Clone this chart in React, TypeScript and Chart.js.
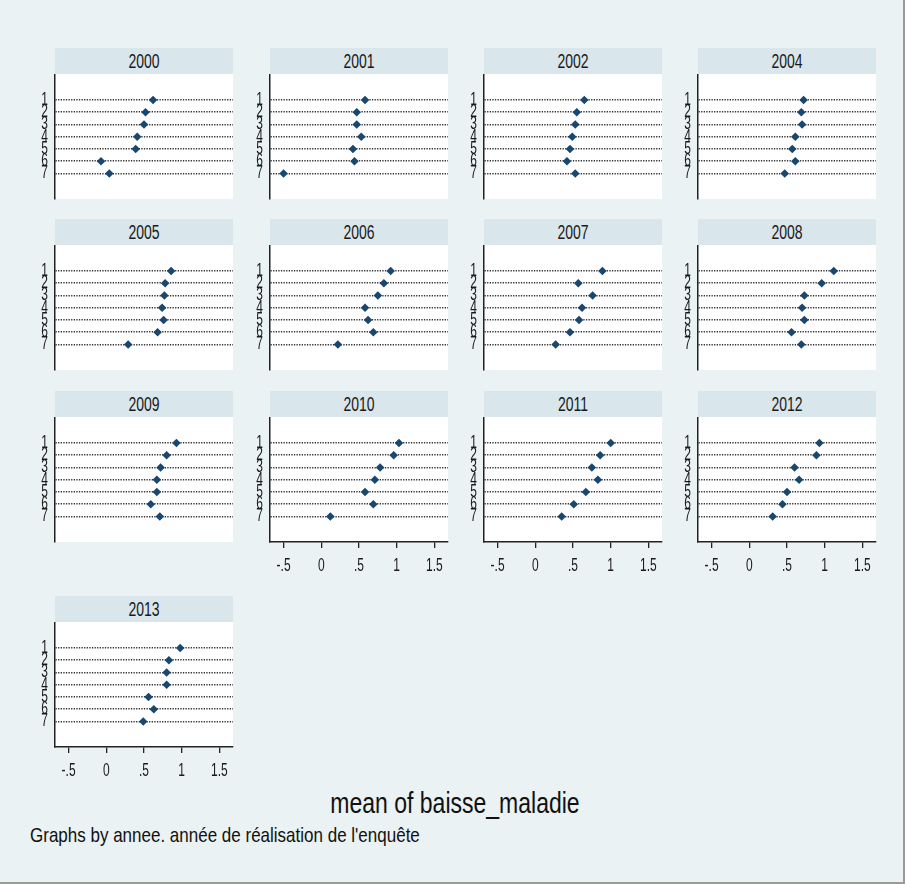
import React, { useEffect, useRef } from 'react';
import { Chart, registerables } from 'chart.js';

Chart.register(...registerables);

// ---------- data ----------
const years = ['2000', '2001', '2002', '2004', '2005', '2006', '2007', '2008', '2009', '2010', '2011', '2012', '2013'];
const categories = ['1', '2', '3', '4', '5', '6', '7'];
const xTickValues = [-0.5, 0, 0.5, 1, 1.5];
const xTickLabels = ['-.5', '0', '.5', '1', '1.5'];
const panelsWithXAxis = ['2010', '2011', '2012', '2013'];

const mean2000 = [0.62, 0.52, 0.5, 0.41, 0.39, -0.07, 0.04];
const mean2001 = [0.58, 0.47, 0.47, 0.53, 0.42, 0.44, -0.5];
const mean2002 = [0.65, 0.55, 0.53, 0.49, 0.46, 0.42, 0.53];
const mean2004 = [0.72, 0.69, 0.7, 0.61, 0.57, 0.61, 0.47];
const mean2005 = [0.86, 0.78, 0.77, 0.74, 0.76, 0.68, 0.29];
const mean2006 = [0.92, 0.83, 0.75, 0.58, 0.62, 0.69, 0.22];
const mean2007 = [0.89, 0.57, 0.76, 0.62, 0.58, 0.46, 0.27];
const mean2008 = [1.12, 0.96, 0.73, 0.7, 0.73, 0.56, 0.69];
const mean2009 = [0.93, 0.8, 0.72, 0.67, 0.67, 0.59, 0.71];
const mean2010 = [1.03, 0.96, 0.78, 0.71, 0.58, 0.69, 0.12];
const mean2011 = [1.0, 0.86, 0.75, 0.83, 0.67, 0.51, 0.35];
const mean2012 = [0.93, 0.89, 0.6, 0.66, 0.5, 0.44, 0.31];
const mean2013 = [0.98, 0.83, 0.8, 0.8, 0.56, 0.63, 0.49];

const seriesByYear = [
  mean2000, mean2001, mean2002, mean2004, mean2005, mean2006, mean2007,
  mean2008, mean2009, mean2010, mean2011, mean2012, mean2013,
];

const xTitle = 'mean of baisse_maladie';
const note = "Graphs by annee. année de réalisation de l'enquête";

// ---------- layout / style ----------
const COL_LEFT = [55, 270, 484, 698];
const ROW_TOP = [48, 219, 391, 596];
const PLOT_W = 178;
const PLOT_H = 125;
const HEADER_H = 26;
const LABEL_SPACE = 28;
const RIGHT_PAD = 4;
const AXIS_SPACE = 36;
const BG = '#EAF2F3';
const HEADER_BG = '#D9E6EB';
const MARKER = '#1A476F';
const FONT = '"Liberation Sans", Arial, sans-serif';

function Panel({ index }: { index: number }) {
  const ref = useRef<HTMLCanvasElement>(null);
  const year = years[index];
  const values = seriesByYear[index];
  const showX = panelsWithXAxis.includes(year);
  const row = Math.floor(index / 4);
  const col = index % 4;
  const left = COL_LEFT[col];
  const top = ROW_TOP[row];
  const canvasW = LABEL_SPACE + PLOT_W + RIGHT_PAD;
  const canvasH = PLOT_H + (showX ? AXIS_SPACE : 2);

  useEffect(() => {
    const plugin = {
      id: 'stataDecor',
      beforeDraw(chart: any) {
        const { ctx, chartArea } = chart;
        ctx.save();
        ctx.fillStyle = '#ffffff';
        ctx.fillRect(chartArea.left, chartArea.top, chartArea.right - chartArea.left, chartArea.bottom - chartArea.top);
        ctx.restore();
      },
      afterDraw(chart: any) {
        const { ctx, chartArea } = chart;
        const ys = chart.scales.y;
        const xs = chart.scales.x;
        ctx.save();
        ctx.fillStyle = '#1a1a1a';
        ctx.font = `12px ${FONT}`;
        ctx.textAlign = 'right';
        ctx.textBaseline = 'middle';
        categories.forEach((c, i) => {
          const py = ys.getPixelForValue(i + 1);
          ctx.save();
          ctx.translate(chartArea.left - 7, py);
          ctx.scale(1, 1.5);
          ctx.fillText(c, 0, 0);
          ctx.restore();
        });
        if (showX) {
          ctx.textAlign = 'center';
          xTickValues.forEach((v, i) => {
            const px = xs.getPixelForValue(v);
            ctx.save();
            ctx.translate(px, chartArea.bottom + 24);
            ctx.scale(1, 1.5);
            ctx.fillText(xTickLabels[i], 0, 0);
            ctx.restore();
          });
        }
        ctx.restore();
      },
    };

    const chart = new Chart(ref.current as HTMLCanvasElement, {
      type: 'scatter',
      data: {
        datasets: [
          {
            data: values.map((v, i) => ({ x: v, y: i + 1 })),
            pointStyle: 'rectRot',
            pointRadius: 4.3,
            pointBorderWidth: 0,
            backgroundColor: MARKER,
            borderColor: MARKER,
          },
        ],
      },
      options: {
        responsive: false,
        maintainAspectRatio: false,
        animation: false,
        events: [],
        layout: {
          autoPadding: false,
          padding: { left: LABEL_SPACE, right: RIGHT_PAD, top: 0, bottom: showX ? AXIS_SPACE - 6 : 2 },
        },
        plugins: { legend: { display: false }, tooltip: { enabled: false }, title: { display: false } },
        scales: {
          x: {
            type: 'linear',
            min: -0.68,
            max: 1.68,
            display: showX,
            afterBuildTicks: (scale: any) => {
              scale.ticks = xTickValues.map((value) => ({ value }));
            },
            grid: {
              display: true,
              drawOnChartArea: false,
              drawTicks: true,
              tickLength: 6,
              color: '#222',
              lineWidth: 1.3,
            },
            border: { display: true, color: '#222', width: 1.5 },
            ticks: { display: false },
          },
          y: {
            type: 'linear',
            reverse: true,
            min: -1.12,
            max: 9.08,
            display: true,
            afterBuildTicks: (scale: any) => {
              scale.ticks = categories.map((_, i) => ({ value: i + 1 }));
            },
            grid: {
              display: true,
              drawTicks: false,
              color: '#333333',
              lineWidth: 1.6,
            },
            border: { display: true, color: '#222', width: 1.5, dash: [1.3, 1.3] },
            ticks: { display: false },
          },
        },
      },
      plugins: [plugin],
    } as any);
    return () => chart.destroy();
  }, []);

  return (
    <>
      <div
        style={{
          position: 'absolute',
          left,
          top,
          width: PLOT_W,
          height: HEADER_H,
          background: HEADER_BG,
          display: 'flex',
          alignItems: 'center',
          justifyContent: 'center',
        }}
      >
        <span style={{ font: `14px ${FONT}`, color: '#1a1a1a', display: 'inline-block', transform: 'scaleY(1.4)' }}>
          {year}
        </span>
      </div>
      <canvas
        ref={ref}
        width={canvasW}
        height={canvasH}
        style={{ position: 'absolute', left: left - LABEL_SPACE, top: top + HEADER_H, width: canvasW, height: canvasH }}
      />
    </>
  );
}

export default function App() {
  return (
    <div
      style={{
        position: 'fixed',
        left: 0,
        top: 0,
        width: 905,
        height: 884,
        background: BG,
        overflow: 'hidden',
        boxSizing: 'border-box',
        borderRight: '2px solid #9a9a9a',
        borderBottom: '2px solid #9a9a9a',
      }}
    >
      {years.map((y, i) => (
        <Panel key={y} index={i} />
      ))}
      <div
        style={{
          position: 'absolute',
          left: 0,
          top: 788,
          width: 910,
          textAlign: 'center',
          font: `23px ${FONT}`,
          lineHeight: '30px',
          color: '#111',
          transform: 'scaleY(1.25)',
        }}
      >
        {xTitle}
      </div>
      <div
        style={{
          position: 'absolute',
          left: 30,
          top: 826,
          font: `17px ${FONT}`,
          lineHeight: '20px',
          color: '#111',
          whiteSpace: 'nowrap',
          transform: 'scaleY(1.2)',
          transformOrigin: 'left center',
        }}
      >
        {note}
      </div>
    </div>
  );
}
